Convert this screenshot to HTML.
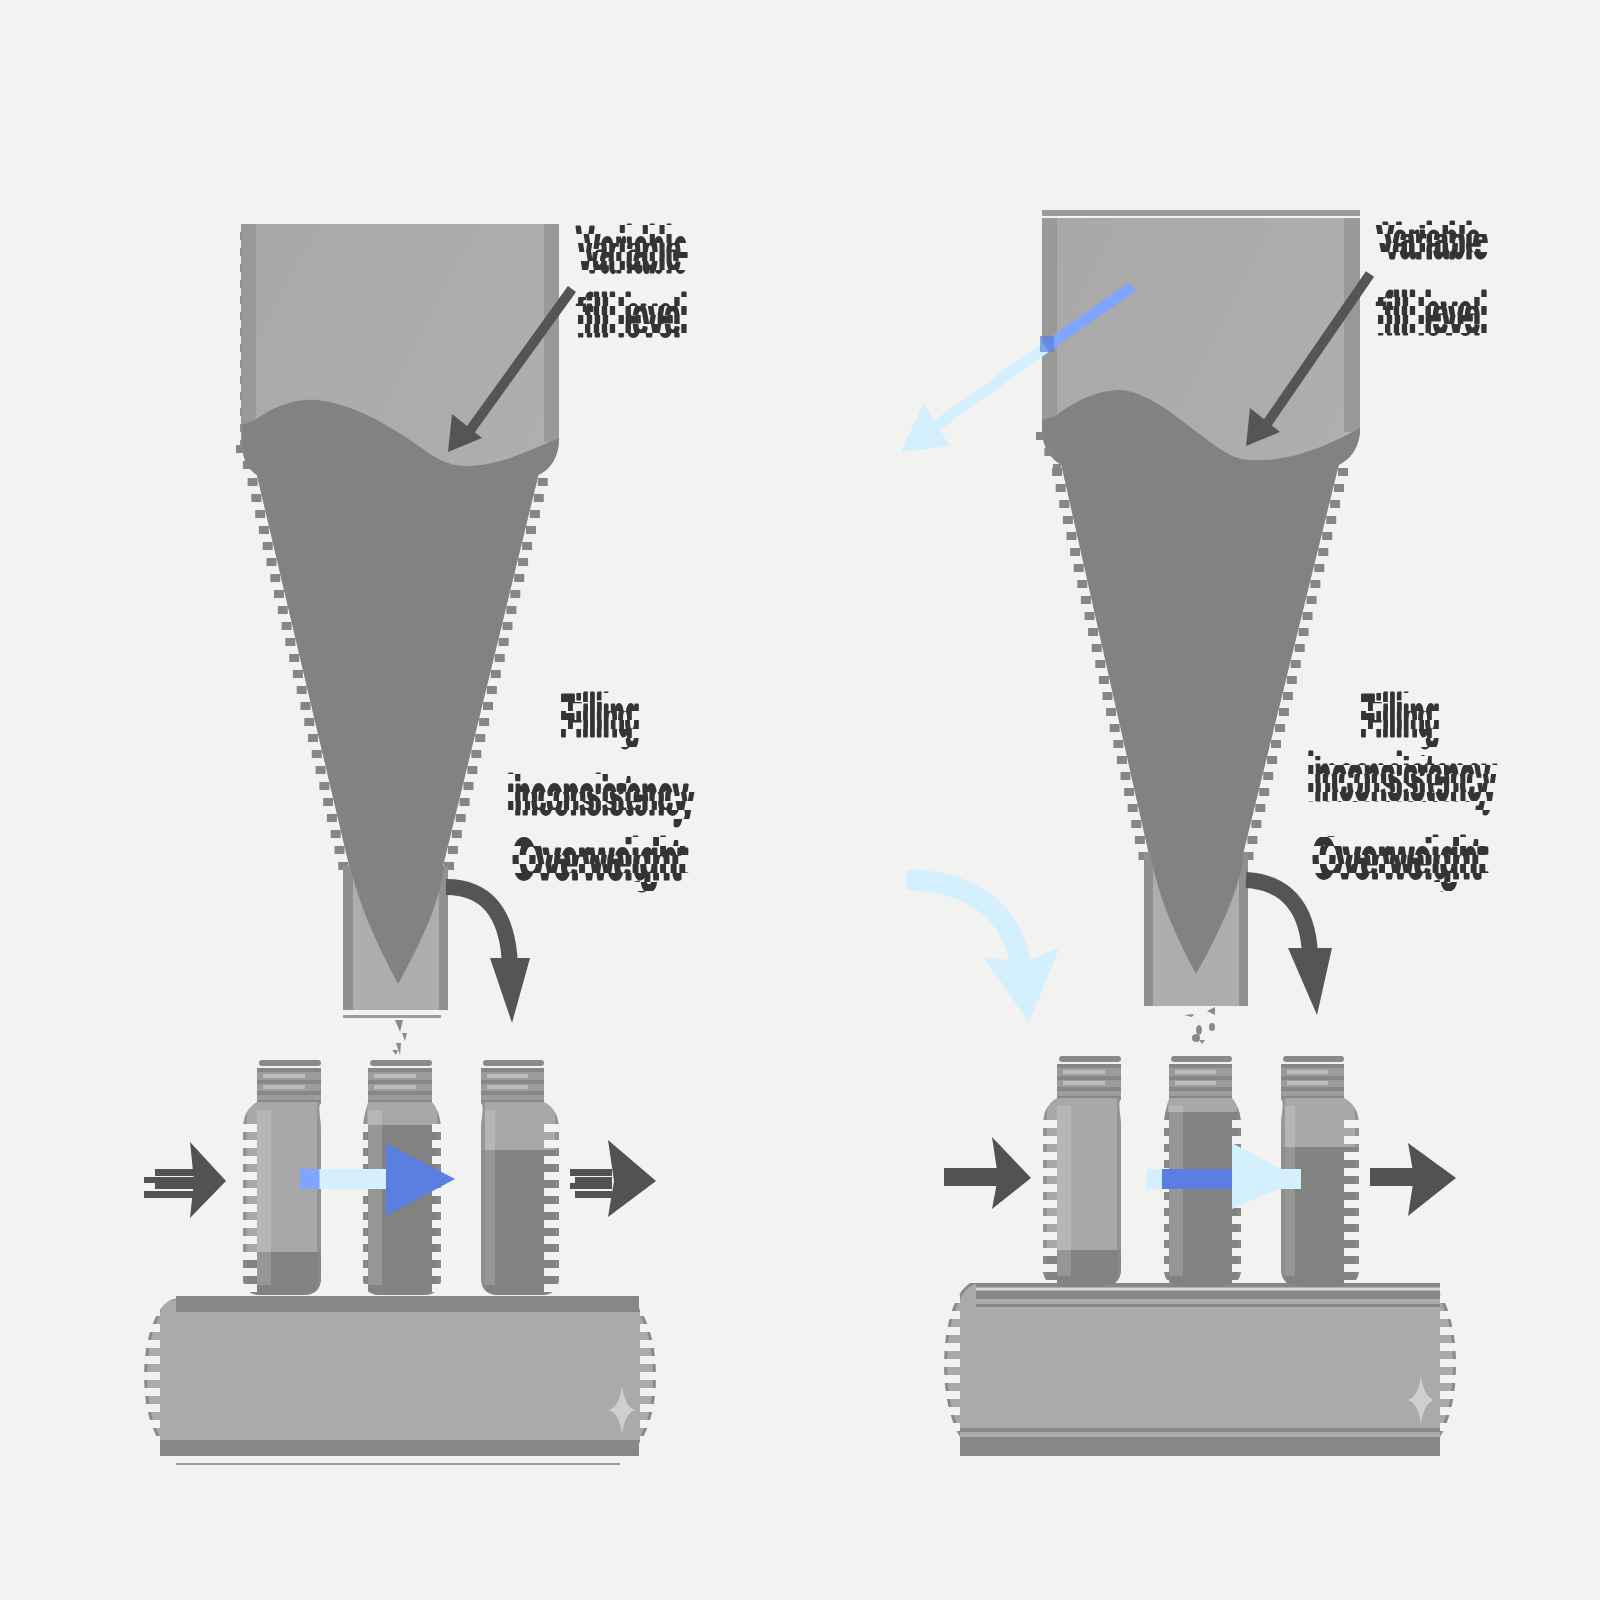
<!DOCTYPE html>
<html><head><meta charset="utf-8"><style>
html,body{margin:0;padding:0;background:#f2f2f1;width:1600px;height:1600px;overflow:hidden}
svg{display:block}
text{font-family:"Liberation Sans",sans-serif;font-weight:bold;fill:#333;stroke:#333;stroke-width:3;stroke-linejoin:round}
.tx{opacity:0.995;will-change:opacity}
</style></head><body>
<svg width="1600" height="1600" viewBox="0 0 1600 1600">
<defs>
  <linearGradient id="blueL" x1="0" x2="1" y1="0" y2="0">
    <stop offset="0" stop-color="#7fa5ff"/><stop offset="0.19" stop-color="#7fa5ff"/><stop offset="0.2" stop-color="#d4f0ff"/><stop offset="1" stop-color="#d4f0ff"/>
  </linearGradient>
  <linearGradient id="hopL" x1="0" x2="1" y1="0" y2="1">
    <stop offset="0" stop-color="#a8a8a8"/><stop offset="1" stop-color="#b2b2b0"/>
  </linearGradient>
  <clipPath id="rowsA"><rect x="0" y="0" width="1600" height="9"/><rect x="0" y="18" width="1600" height="9"/><rect x="0" y="36" width="1600" height="9"/><rect x="0" y="54" width="1600" height="9"/><rect x="0" y="72" width="1600" height="9"/><rect x="0" y="90" width="1600" height="9"/><rect x="0" y="108" width="1600" height="9"/><rect x="0" y="126" width="1600" height="9"/><rect x="0" y="144" width="1600" height="9"/><rect x="0" y="162" width="1600" height="9"/><rect x="0" y="180" width="1600" height="9"/><rect x="0" y="198" width="1600" height="9"/><rect x="0" y="216" width="1600" height="9"/><rect x="0" y="234" width="1600" height="9"/><rect x="0" y="252" width="1600" height="9"/><rect x="0" y="270" width="1600" height="9"/><rect x="0" y="288" width="1600" height="9"/><rect x="0" y="306" width="1600" height="9"/><rect x="0" y="324" width="1600" height="9"/><rect x="0" y="342" width="1600" height="9"/><rect x="0" y="360" width="1600" height="9"/><rect x="0" y="378" width="1600" height="9"/><rect x="0" y="396" width="1600" height="9"/><rect x="0" y="414" width="1600" height="9"/><rect x="0" y="432" width="1600" height="9"/><rect x="0" y="450" width="1600" height="9"/><rect x="0" y="468" width="1600" height="9"/><rect x="0" y="486" width="1600" height="9"/><rect x="0" y="504" width="1600" height="9"/><rect x="0" y="522" width="1600" height="9"/><rect x="0" y="540" width="1600" height="9"/><rect x="0" y="558" width="1600" height="9"/><rect x="0" y="576" width="1600" height="9"/><rect x="0" y="594" width="1600" height="9"/><rect x="0" y="612" width="1600" height="9"/><rect x="0" y="630" width="1600" height="9"/><rect x="0" y="648" width="1600" height="9"/><rect x="0" y="666" width="1600" height="9"/><rect x="0" y="684" width="1600" height="9"/><rect x="0" y="702" width="1600" height="9"/><rect x="0" y="720" width="1600" height="9"/><rect x="0" y="738" width="1600" height="9"/><rect x="0" y="756" width="1600" height="9"/><rect x="0" y="774" width="1600" height="9"/><rect x="0" y="792" width="1600" height="9"/><rect x="0" y="810" width="1600" height="9"/><rect x="0" y="828" width="1600" height="9"/><rect x="0" y="846" width="1600" height="9"/><rect x="0" y="864" width="1600" height="9"/><rect x="0" y="882" width="1600" height="9"/><rect x="0" y="900" width="1600" height="9"/><rect x="0" y="918" width="1600" height="9"/><rect x="0" y="936" width="1600" height="9"/><rect x="0" y="954" width="1600" height="9"/><rect x="0" y="972" width="1600" height="9"/><rect x="0" y="990" width="1600" height="9"/><rect x="0" y="1008" width="1600" height="9"/><rect x="0" y="1026" width="1600" height="9"/><rect x="0" y="1044" width="1600" height="9"/><rect x="0" y="1062" width="1600" height="9"/><rect x="0" y="1080" width="1600" height="9"/><rect x="0" y="1098" width="1600" height="9"/><rect x="0" y="1116" width="1600" height="9"/><rect x="0" y="1134" width="1600" height="9"/><rect x="0" y="1152" width="1600" height="9"/><rect x="0" y="1170" width="1600" height="9"/><rect x="0" y="1188" width="1600" height="9"/><rect x="0" y="1206" width="1600" height="9"/><rect x="0" y="1224" width="1600" height="9"/><rect x="0" y="1242" width="1600" height="9"/><rect x="0" y="1260" width="1600" height="9"/><rect x="0" y="1278" width="1600" height="9"/><rect x="0" y="1296" width="1600" height="9"/><rect x="0" y="1314" width="1600" height="9"/><rect x="0" y="1332" width="1600" height="9"/><rect x="0" y="1350" width="1600" height="9"/><rect x="0" y="1368" width="1600" height="9"/><rect x="0" y="1386" width="1600" height="9"/><rect x="0" y="1404" width="1600" height="9"/><rect x="0" y="1422" width="1600" height="9"/><rect x="0" y="1440" width="1600" height="9"/><rect x="0" y="1458" width="1600" height="9"/><rect x="0" y="1476" width="1600" height="9"/><rect x="0" y="1494" width="1600" height="9"/><rect x="0" y="1512" width="1600" height="9"/><rect x="0" y="1530" width="1600" height="9"/><rect x="0" y="1548" width="1600" height="9"/><rect x="0" y="1566" width="1600" height="9"/><rect x="0" y="1584" width="1600" height="9"/></clipPath>
  <clipPath id="rowsB"><rect x="0" y="9" width="1600" height="9"/><rect x="0" y="27" width="1600" height="9"/><rect x="0" y="45" width="1600" height="9"/><rect x="0" y="63" width="1600" height="9"/><rect x="0" y="81" width="1600" height="9"/><rect x="0" y="99" width="1600" height="9"/><rect x="0" y="117" width="1600" height="9"/><rect x="0" y="135" width="1600" height="9"/><rect x="0" y="153" width="1600" height="9"/><rect x="0" y="171" width="1600" height="9"/><rect x="0" y="189" width="1600" height="9"/><rect x="0" y="207" width="1600" height="9"/><rect x="0" y="225" width="1600" height="9"/><rect x="0" y="243" width="1600" height="9"/><rect x="0" y="261" width="1600" height="9"/><rect x="0" y="279" width="1600" height="9"/><rect x="0" y="297" width="1600" height="9"/><rect x="0" y="315" width="1600" height="9"/><rect x="0" y="333" width="1600" height="9"/><rect x="0" y="351" width="1600" height="9"/><rect x="0" y="369" width="1600" height="9"/><rect x="0" y="387" width="1600" height="9"/><rect x="0" y="405" width="1600" height="9"/><rect x="0" y="423" width="1600" height="9"/><rect x="0" y="441" width="1600" height="9"/><rect x="0" y="459" width="1600" height="9"/><rect x="0" y="477" width="1600" height="9"/><rect x="0" y="495" width="1600" height="9"/><rect x="0" y="513" width="1600" height="9"/><rect x="0" y="531" width="1600" height="9"/><rect x="0" y="549" width="1600" height="9"/><rect x="0" y="567" width="1600" height="9"/><rect x="0" y="585" width="1600" height="9"/><rect x="0" y="603" width="1600" height="9"/><rect x="0" y="621" width="1600" height="9"/><rect x="0" y="639" width="1600" height="9"/><rect x="0" y="657" width="1600" height="9"/><rect x="0" y="675" width="1600" height="9"/><rect x="0" y="693" width="1600" height="9"/><rect x="0" y="711" width="1600" height="9"/><rect x="0" y="729" width="1600" height="9"/><rect x="0" y="747" width="1600" height="9"/><rect x="0" y="765" width="1600" height="9"/><rect x="0" y="783" width="1600" height="9"/><rect x="0" y="801" width="1600" height="9"/><rect x="0" y="819" width="1600" height="9"/><rect x="0" y="837" width="1600" height="9"/><rect x="0" y="855" width="1600" height="9"/><rect x="0" y="873" width="1600" height="9"/><rect x="0" y="891" width="1600" height="9"/><rect x="0" y="909" width="1600" height="9"/><rect x="0" y="927" width="1600" height="9"/><rect x="0" y="945" width="1600" height="9"/><rect x="0" y="963" width="1600" height="9"/><rect x="0" y="981" width="1600" height="9"/><rect x="0" y="999" width="1600" height="9"/><rect x="0" y="1017" width="1600" height="9"/><rect x="0" y="1035" width="1600" height="9"/><rect x="0" y="1053" width="1600" height="9"/><rect x="0" y="1071" width="1600" height="9"/><rect x="0" y="1089" width="1600" height="9"/><rect x="0" y="1107" width="1600" height="9"/><rect x="0" y="1125" width="1600" height="9"/><rect x="0" y="1143" width="1600" height="9"/><rect x="0" y="1161" width="1600" height="9"/><rect x="0" y="1179" width="1600" height="9"/><rect x="0" y="1197" width="1600" height="9"/><rect x="0" y="1215" width="1600" height="9"/><rect x="0" y="1233" width="1600" height="9"/><rect x="0" y="1251" width="1600" height="9"/><rect x="0" y="1269" width="1600" height="9"/><rect x="0" y="1287" width="1600" height="9"/><rect x="0" y="1305" width="1600" height="9"/><rect x="0" y="1323" width="1600" height="9"/><rect x="0" y="1341" width="1600" height="9"/><rect x="0" y="1359" width="1600" height="9"/><rect x="0" y="1377" width="1600" height="9"/><rect x="0" y="1395" width="1600" height="9"/><rect x="0" y="1413" width="1600" height="9"/><rect x="0" y="1431" width="1600" height="9"/><rect x="0" y="1449" width="1600" height="9"/><rect x="0" y="1467" width="1600" height="9"/><rect x="0" y="1485" width="1600" height="9"/><rect x="0" y="1503" width="1600" height="9"/><rect x="0" y="1521" width="1600" height="9"/><rect x="0" y="1539" width="1600" height="9"/><rect x="0" y="1557" width="1600" height="9"/><rect x="0" y="1575" width="1600" height="9"/><rect x="0" y="1593" width="1600" height="9"/></clipPath>
</defs>
<rect width="1600" height="1600" fill="#f2f2f1"/>

<g id="L">
<path d="M242,224 H559 V442 Q557,466 538.4,475 L443,866 H349.2 L256.9,475 Q243,466 242,445 Z" fill="url(#hopL)"/>
<rect x="241" y="224" width="15" height="221" fill="#999997"/>
<rect x="544" y="224" width="15" height="218" fill="#999997"/>
<path d="M242,425 L255,420 C275,405 298,398 318,400 C350,404 380,420 410,440 C430,454 445,466 465,466 C500,466 525,452 559,438 L559,442 Q557,466 538.4,475 L443,866 L349.2,866 L256.9,475 Q243,466 242,445 Z" fill="#828282"/>
<rect x="247.6" y="478.0" width="10" height="8" fill="#868686" opacity="1"/>
<rect x="251.4" y="494.0" width="10" height="8" fill="#868686" opacity="1"/>
<rect x="255.2" y="510.0" width="10" height="8" fill="#868686" opacity="1"/>
<rect x="258.9" y="526.0" width="10" height="8" fill="#868686" opacity="1"/>
<rect x="262.7" y="542.0" width="10" height="8" fill="#868686" opacity="1"/>
<rect x="266.5" y="558.0" width="10" height="8" fill="#868686" opacity="1"/>
<rect x="270.3" y="574.0" width="10" height="8" fill="#868686" opacity="1"/>
<rect x="274.0" y="590.0" width="10" height="8" fill="#868686" opacity="1"/>
<rect x="277.8" y="606.0" width="10" height="8" fill="#868686" opacity="1"/>
<rect x="281.6" y="622.0" width="10" height="8" fill="#868686" opacity="1"/>
<rect x="285.4" y="638.0" width="10" height="8" fill="#868686" opacity="1"/>
<rect x="289.2" y="654.0" width="10" height="8" fill="#868686" opacity="1"/>
<rect x="292.9" y="670.0" width="10" height="8" fill="#868686" opacity="1"/>
<rect x="296.7" y="686.0" width="10" height="8" fill="#868686" opacity="1"/>
<rect x="300.5" y="702.0" width="10" height="8" fill="#868686" opacity="1"/>
<rect x="304.3" y="718.0" width="10" height="8" fill="#868686" opacity="1"/>
<rect x="308.0" y="734.0" width="10" height="8" fill="#868686" opacity="1"/>
<rect x="311.8" y="750.0" width="10" height="8" fill="#868686" opacity="1"/>
<rect x="315.6" y="766.0" width="10" height="8" fill="#868686" opacity="1"/>
<rect x="319.4" y="782.0" width="10" height="8" fill="#868686" opacity="1"/>
<rect x="323.1" y="798.0" width="10" height="8" fill="#868686" opacity="1"/>
<rect x="326.9" y="814.0" width="10" height="8" fill="#868686" opacity="1"/>
<rect x="330.7" y="830.0" width="10" height="8" fill="#868686" opacity="1"/>
<rect x="334.5" y="846.0" width="10" height="8" fill="#868686" opacity="1"/>
<rect x="338.3" y="862.0" width="10" height="8" fill="#868686" opacity="1"/>
<rect x="537.7" y="478.0" width="10" height="8" fill="#868686" opacity="1"/>
<rect x="533.8" y="494.0" width="10" height="8" fill="#868686" opacity="1"/>
<rect x="529.9" y="510.0" width="10" height="8" fill="#868686" opacity="1"/>
<rect x="526.0" y="526.0" width="10" height="8" fill="#868686" opacity="1"/>
<rect x="522.1" y="542.0" width="10" height="8" fill="#868686" opacity="1"/>
<rect x="518.1" y="558.0" width="10" height="8" fill="#868686" opacity="1"/>
<rect x="514.2" y="574.0" width="10" height="8" fill="#868686" opacity="1"/>
<rect x="510.3" y="590.0" width="10" height="8" fill="#868686" opacity="1"/>
<rect x="506.4" y="606.0" width="10" height="8" fill="#868686" opacity="1"/>
<rect x="502.5" y="622.0" width="10" height="8" fill="#868686" opacity="1"/>
<rect x="498.6" y="638.0" width="10" height="8" fill="#868686" opacity="1"/>
<rect x="494.7" y="654.0" width="10" height="8" fill="#868686" opacity="1"/>
<rect x="490.8" y="670.0" width="10" height="8" fill="#868686" opacity="1"/>
<rect x="486.9" y="686.0" width="10" height="8" fill="#868686" opacity="1"/>
<rect x="483.0" y="702.0" width="10" height="8" fill="#868686" opacity="1"/>
<rect x="479.1" y="718.0" width="10" height="8" fill="#868686" opacity="1"/>
<rect x="475.2" y="734.0" width="10" height="8" fill="#868686" opacity="1"/>
<rect x="471.3" y="750.0" width="10" height="8" fill="#868686" opacity="1"/>
<rect x="467.4" y="766.0" width="10" height="8" fill="#868686" opacity="1"/>
<rect x="463.5" y="782.0" width="10" height="8" fill="#868686" opacity="1"/>
<rect x="459.6" y="798.0" width="10" height="8" fill="#868686" opacity="1"/>
<rect x="455.7" y="814.0" width="10" height="8" fill="#868686" opacity="1"/>
<rect x="451.8" y="830.0" width="10" height="8" fill="#868686" opacity="1"/>
<rect x="447.9" y="846.0" width="10" height="8" fill="#868686" opacity="1"/>
<rect x="444.0" y="862.0" width="10" height="8" fill="#868686" opacity="1"/>
<rect x="236.0" y="445.0" width="8" height="8" fill="#868686" opacity="1"/>
<rect x="242.9" y="461.0" width="8" height="8" fill="#868686" opacity="1"/>
<rect x="240.0" y="232.0" width="2" height="8" fill="#8f8f8f" opacity="1"/>
<rect x="240.0" y="248.0" width="2" height="8" fill="#8f8f8f" opacity="1"/>
<rect x="240.0" y="264.0" width="2" height="8" fill="#8f8f8f" opacity="1"/>
<rect x="240.0" y="280.0" width="2" height="8" fill="#8f8f8f" opacity="1"/>
<rect x="240.0" y="296.0" width="2" height="8" fill="#8f8f8f" opacity="1"/>
<rect x="240.0" y="312.0" width="2" height="8" fill="#8f8f8f" opacity="1"/>
<rect x="240.0" y="328.0" width="2" height="8" fill="#8f8f8f" opacity="1"/>
<rect x="240.0" y="344.0" width="2" height="8" fill="#8f8f8f" opacity="1"/>
<rect x="240.0" y="360.0" width="2" height="8" fill="#8f8f8f" opacity="1"/>
<rect x="240.0" y="376.0" width="2" height="8" fill="#8f8f8f" opacity="1"/>
<rect x="240.0" y="392.0" width="2" height="8" fill="#8f8f8f" opacity="1"/>
<rect x="240.0" y="408.0" width="2" height="8" fill="#8f8f8f" opacity="1"/>
<rect x="240.0" y="424.0" width="2" height="8" fill="#8f8f8f" opacity="1"/>
<rect x="240.0" y="440.0" width="2" height="8" fill="#8f8f8f" opacity="1"/>
<rect x="343" y="866" width="105" height="144" fill="#909090"/>
<rect x="353" y="866" width="86" height="144" fill="#adadad"/>
<path d="M350,866 L444,866 C440,900 425,935 398,984 C372,935 358,900 350,866 Z" fill="#828282"/>
<rect x="343" y="1015" width="98" height="3" fill="#9c9c9c"/>
<g fill="#8a8a8a"><path d="M395,1020 l8,0 l-3,12 z"/><path d="M402,1033 l5,0 l-2,8 z"/><path d="M396,1043 l5,0 l-1,12 z"/><path d="M392,1050 l6,0 l-2,5 z"/></g>
<path d="M572,289 L466,436" stroke="#555" stroke-width="10" fill="none"/>
<path d="M448,452 L452,414 L482,438 Z" fill="#555"/>
<g class="tx"><g clip-path="url(#rowsA)"><g transform="translate(7,0)"><text x="576" y="272" font-size="64" text-anchor="start" textLength="105" lengthAdjust="spacingAndGlyphs">Variable</text>
<text x="576" y="336" font-size="60" text-anchor="start" textLength="105" lengthAdjust="spacingAndGlyphs">fill level</text>
<text x="596.5" y="736" font-size="60" text-anchor="middle" textLength="73" lengthAdjust="spacingAndGlyphs">Filling</text>
<text x="597.5" y="814" font-size="56" text-anchor="middle" textLength="181" lengthAdjust="spacingAndGlyphs">inconsistency</text>
<text x="596.5" y="879" font-size="58" text-anchor="middle" textLength="169" lengthAdjust="spacingAndGlyphs">Overweight</text></g></g><g clip-path="url(#rowsB)"><text x="576" y="272" font-size="64" text-anchor="start" textLength="105" lengthAdjust="spacingAndGlyphs">Variable</text>
<text x="576" y="336" font-size="60" text-anchor="start" textLength="105" lengthAdjust="spacingAndGlyphs">fill level</text>
<text x="596.5" y="736" font-size="60" text-anchor="middle" textLength="73" lengthAdjust="spacingAndGlyphs">Filling</text>
<text x="597.5" y="814" font-size="56" text-anchor="middle" textLength="181" lengthAdjust="spacingAndGlyphs">inconsistency</text>
<text x="596.5" y="879" font-size="58" text-anchor="middle" textLength="169" lengthAdjust="spacingAndGlyphs">Overweight</text></g></g>
<path d="M446,887 C484,887 508,910 510,966" stroke="#555" stroke-width="16" fill="none"/>
<path d="M490,958 L530,958 L512,1023 Z" fill="#555"/>
<clipPath id="cvlt"><rect x="142" y="1300" width="516" height="8"/><rect x="142" y="1316" width="516" height="8"/><rect x="142" y="1332" width="516" height="8"/><rect x="142" y="1348" width="516" height="8"/><rect x="142" y="1364" width="516" height="8"/><rect x="142" y="1380" width="516" height="8"/><rect x="142" y="1396" width="516" height="8"/><rect x="142" y="1412" width="516" height="8"/><rect x="142" y="1428" width="516" height="8"/><rect x="142" y="1444" width="516" height="8"/><rect x="160" y="1296" width="480" height="160"/></clipPath>
<g clip-path="url(#cvlt)">
<ellipse cx="178" cy="1376.0" rx="32.5" ry="76.0" fill="#aaaaaa" stroke="#8a8a8a" stroke-width="3"/>
<ellipse cx="622" cy="1376.0" rx="32.5" ry="76.0" fill="#aaaaaa" stroke="#8a8a8a" stroke-width="3"/>
</g>
<rect x="160" y="1300" width="480" height="152" rx="16" fill="#aaaaaa"/>
<rect x="176" y="1296" width="463" height="16" fill="#878787"/><rect x="160" y="1440" width="479" height="16" fill="#878787"/>
<rect x="176" y="1463" width="444" height="2" fill="#9a9a9a"/>
<path d="M622,1386 Q625,1407 635,1410 Q625,1413 622,1434 Q619,1413 609,1410 Q619,1407 622,1386 Z" fill="#cfcfcf"/>
<clipPath id="bl1s"><path d="M257,1102 H321 C317,1108 321,1116 321,1132 V1277 Q321,1295 303,1295 H261 Q243,1295 243,1277 V1132 C243,1116 247,1108 257,1102 Z"/></clipPath>
<clipPath id="bl1t"><rect x="257" y="1060" width="64" height="237"/><rect x="241" y="1098" width="82" height="26"/><rect x="241" y="1132" width="82" height="8"/><rect x="241" y="1148" width="82" height="8"/><rect x="241" y="1164" width="82" height="8"/><rect x="241" y="1180" width="82" height="8"/><rect x="241" y="1196" width="82" height="8"/><rect x="241" y="1212" width="82" height="8"/><rect x="241" y="1228" width="82" height="8"/><rect x="241" y="1244" width="82" height="8"/><rect x="241" y="1260" width="82" height="8"/><rect x="241" y="1276" width="82" height="8"/><rect x="241" y="1292" width="82" height="8"/></clipPath>
<rect x="259" y="1060" width="62" height="6" rx="3" fill="#8a8a8a"/>
<rect x="257" y="1068" width="64" height="36" rx="3" fill="#9c9c9c"/>
<rect x="257" y="1068" width="64" height="4" fill="#878787"/>
<rect x="257" y="1080" width="64" height="4" fill="#878787"/>
<rect x="257" y="1091" width="64" height="4" fill="#878787"/>
<rect x="257" y="1100" width="64" height="4" fill="#878787"/>
<rect x="263" y="1074" width="42" height="4" fill="#bdbdbd"/>
<rect x="263" y="1085" width="42" height="4" fill="#bdbdbd"/>
<g clip-path="url(#bl1s)"><g clip-path="url(#bl1t)">
<rect x="243" y="1100" width="78" height="235" fill="#a8a8a8"/>
<rect x="243" y="1252" width="78" height="43" fill="#828282"/>
<rect x="257" y="1110" width="14" height="175" fill="#ffffff" opacity="0.16"/>
<rect x="243" y="1100" width="4" height="235" fill="#8a8a8a" opacity="0.7"/>
<rect x="317" y="1100" width="4" height="235" fill="#8a8a8a" opacity="0.7"/>
</g></g>
<clipPath id="bl2s"><path d="M368,1102 H432 C437,1108 441,1116 441,1132 V1277 Q441,1295 423,1295 H381 Q363,1295 363,1277 V1132 C363,1116 367,1108 368,1102 Z"/></clipPath>
<clipPath id="bl2t"><rect x="368" y="1060" width="64" height="237"/><rect x="361" y="1098" width="82" height="26"/><rect x="361" y="1132" width="82" height="8"/><rect x="361" y="1148" width="82" height="8"/><rect x="361" y="1164" width="82" height="8"/><rect x="361" y="1180" width="82" height="8"/><rect x="361" y="1196" width="82" height="8"/><rect x="361" y="1212" width="82" height="8"/><rect x="361" y="1228" width="82" height="8"/><rect x="361" y="1244" width="82" height="8"/><rect x="361" y="1260" width="82" height="8"/><rect x="361" y="1276" width="82" height="8"/><rect x="361" y="1292" width="82" height="8"/></clipPath>
<rect x="370" y="1060" width="62" height="6" rx="3" fill="#8a8a8a"/>
<rect x="368" y="1068" width="64" height="36" rx="3" fill="#9c9c9c"/>
<rect x="368" y="1068" width="64" height="4" fill="#878787"/>
<rect x="368" y="1080" width="64" height="4" fill="#878787"/>
<rect x="368" y="1091" width="64" height="4" fill="#878787"/>
<rect x="368" y="1100" width="64" height="4" fill="#878787"/>
<rect x="374" y="1074" width="42" height="4" fill="#bdbdbd"/>
<rect x="374" y="1085" width="42" height="4" fill="#bdbdbd"/>
<g clip-path="url(#bl2s)"><g clip-path="url(#bl2t)">
<rect x="363" y="1100" width="78" height="235" fill="#a8a8a8"/>
<rect x="363" y="1125" width="78" height="170" fill="#828282"/>
<rect x="368" y="1110" width="14" height="175" fill="#ffffff" opacity="0.16"/>
<rect x="363" y="1100" width="4" height="235" fill="#8a8a8a" opacity="0.7"/>
<rect x="437" y="1100" width="4" height="235" fill="#8a8a8a" opacity="0.7"/>
</g></g>
<clipPath id="bl3s"><path d="M481,1102 H544 C555,1108 559,1116 559,1132 V1277 Q559,1295 541,1295 H499 Q481,1295 481,1277 V1132 C481,1116 485,1108 481,1102 Z"/></clipPath>
<clipPath id="bl3t"><rect x="481" y="1060" width="63" height="237"/><rect x="479" y="1098" width="82" height="26"/><rect x="479" y="1132" width="82" height="8"/><rect x="479" y="1148" width="82" height="8"/><rect x="479" y="1164" width="82" height="8"/><rect x="479" y="1180" width="82" height="8"/><rect x="479" y="1196" width="82" height="8"/><rect x="479" y="1212" width="82" height="8"/><rect x="479" y="1228" width="82" height="8"/><rect x="479" y="1244" width="82" height="8"/><rect x="479" y="1260" width="82" height="8"/><rect x="479" y="1276" width="82" height="8"/><rect x="479" y="1292" width="82" height="8"/></clipPath>
<rect x="483" y="1060" width="61" height="6" rx="3" fill="#8a8a8a"/>
<rect x="481" y="1068" width="63" height="36" rx="3" fill="#9c9c9c"/>
<rect x="481" y="1068" width="63" height="4" fill="#878787"/>
<rect x="481" y="1080" width="63" height="4" fill="#878787"/>
<rect x="481" y="1091" width="63" height="4" fill="#878787"/>
<rect x="481" y="1100" width="63" height="4" fill="#878787"/>
<rect x="487" y="1074" width="41" height="4" fill="#bdbdbd"/>
<rect x="487" y="1085" width="41" height="4" fill="#bdbdbd"/>
<g clip-path="url(#bl3s)"><g clip-path="url(#bl3t)">
<rect x="481" y="1100" width="78" height="235" fill="#a8a8a8"/>
<rect x="481" y="1150" width="78" height="145" fill="#828282"/>
<rect x="481" y="1110" width="14" height="175" fill="#ffffff" opacity="0.16"/>
<rect x="481" y="1100" width="4" height="235" fill="#8a8a8a" opacity="0.7"/>
<rect x="555" y="1100" width="4" height="235" fill="#8a8a8a" opacity="0.7"/>
</g></g>
<rect x="300" y="1169" width="100" height="20" fill="url(#blueL)"/>
<path d="M386,1143 L455,1179 L386,1216 Z" fill="#5b7fe0"/>
<g fill="#525252"><rect x="155" y="1169" width="40" height="7"/><rect x="144" y="1177" width="52" height="6"/><rect x="155" y="1183" width="40" height="6"/><rect x="144" y="1191" width="52" height="7"/><path d="M190,1142 L226,1181 L190,1218 L194,1181 Z"/><rect x="570" y="1169" width="42" height="7"/><rect x="575" y="1177" width="37" height="6"/><rect x="570" y="1183" width="42" height="6"/><rect x="575" y="1191" width="37" height="7"/><path d="M608,1140 L656,1181 L608,1217 L614,1181 Z"/></g>
</g>
<g id="R">
<rect x="1042" y="210" width="318" height="6" fill="#9a9a9a"/>
<path d="M1042,218 H1360 V432 Q1358,455 1338.7,465 L1243,854 H1148.9 L1061.4,465 Q1044,455 1042,432 Z" fill="url(#hopL)"/>
<rect x="1042" y="218" width="15" height="214" fill="#999997"/>
<rect x="1344" y="218" width="16" height="214" fill="#999997"/>
<path d="M1042,420 L1056,416 C1075,400 1100,390 1120,390 C1150,392 1180,420 1205,438 C1220,450 1235,460 1250,460 C1285,462 1320,450 1360,428 L1360,432 Q1358,455 1338.7,465 L1243,854 L1148.9,854 L1061.4,465 Q1044,455 1042,432 Z" fill="#828282"/>
<rect x="1052.1" y="468.0" width="10" height="8" fill="#868686" opacity="1"/>
<rect x="1055.7" y="484.0" width="10" height="8" fill="#868686" opacity="1"/>
<rect x="1059.3" y="500.0" width="10" height="8" fill="#868686" opacity="1"/>
<rect x="1062.9" y="516.0" width="10" height="8" fill="#868686" opacity="1"/>
<rect x="1066.5" y="532.0" width="10" height="8" fill="#868686" opacity="1"/>
<rect x="1070.1" y="548.0" width="10" height="8" fill="#868686" opacity="1"/>
<rect x="1073.7" y="564.0" width="10" height="8" fill="#868686" opacity="1"/>
<rect x="1077.3" y="580.0" width="10" height="8" fill="#868686" opacity="1"/>
<rect x="1080.9" y="596.0" width="10" height="8" fill="#868686" opacity="1"/>
<rect x="1084.5" y="612.0" width="10" height="8" fill="#868686" opacity="1"/>
<rect x="1088.1" y="628.0" width="10" height="8" fill="#868686" opacity="1"/>
<rect x="1091.7" y="644.0" width="10" height="8" fill="#868686" opacity="1"/>
<rect x="1095.3" y="660.0" width="10" height="8" fill="#868686" opacity="1"/>
<rect x="1098.9" y="676.0" width="10" height="8" fill="#868686" opacity="1"/>
<rect x="1102.5" y="692.0" width="10" height="8" fill="#868686" opacity="1"/>
<rect x="1106.1" y="708.0" width="10" height="8" fill="#868686" opacity="1"/>
<rect x="1109.7" y="724.0" width="10" height="8" fill="#868686" opacity="1"/>
<rect x="1113.3" y="740.0" width="10" height="8" fill="#868686" opacity="1"/>
<rect x="1116.9" y="756.0" width="10" height="8" fill="#868686" opacity="1"/>
<rect x="1120.5" y="772.0" width="10" height="8" fill="#868686" opacity="1"/>
<rect x="1124.1" y="788.0" width="10" height="8" fill="#868686" opacity="1"/>
<rect x="1127.7" y="804.0" width="10" height="8" fill="#868686" opacity="1"/>
<rect x="1131.3" y="820.0" width="10" height="8" fill="#868686" opacity="1"/>
<rect x="1134.9" y="836.0" width="10" height="8" fill="#868686" opacity="1"/>
<rect x="1138.5" y="852.0" width="10" height="8" fill="#868686" opacity="1"/>
<rect x="1338.0" y="468.0" width="10" height="8" fill="#868686" opacity="1"/>
<rect x="1334.0" y="484.0" width="10" height="8" fill="#868686" opacity="1"/>
<rect x="1330.1" y="500.0" width="10" height="8" fill="#868686" opacity="1"/>
<rect x="1326.2" y="516.0" width="10" height="8" fill="#868686" opacity="1"/>
<rect x="1322.2" y="532.0" width="10" height="8" fill="#868686" opacity="1"/>
<rect x="1318.3" y="548.0" width="10" height="8" fill="#868686" opacity="1"/>
<rect x="1314.3" y="564.0" width="10" height="8" fill="#868686" opacity="1"/>
<rect x="1310.4" y="580.0" width="10" height="8" fill="#868686" opacity="1"/>
<rect x="1306.5" y="596.0" width="10" height="8" fill="#868686" opacity="1"/>
<rect x="1302.5" y="612.0" width="10" height="8" fill="#868686" opacity="1"/>
<rect x="1298.6" y="628.0" width="10" height="8" fill="#868686" opacity="1"/>
<rect x="1294.7" y="644.0" width="10" height="8" fill="#868686" opacity="1"/>
<rect x="1290.7" y="660.0" width="10" height="8" fill="#868686" opacity="1"/>
<rect x="1286.8" y="676.0" width="10" height="8" fill="#868686" opacity="1"/>
<rect x="1282.9" y="692.0" width="10" height="8" fill="#868686" opacity="1"/>
<rect x="1278.9" y="708.0" width="10" height="8" fill="#868686" opacity="1"/>
<rect x="1275.0" y="724.0" width="10" height="8" fill="#868686" opacity="1"/>
<rect x="1271.0" y="740.0" width="10" height="8" fill="#868686" opacity="1"/>
<rect x="1267.1" y="756.0" width="10" height="8" fill="#868686" opacity="1"/>
<rect x="1263.2" y="772.0" width="10" height="8" fill="#868686" opacity="1"/>
<rect x="1259.2" y="788.0" width="10" height="8" fill="#868686" opacity="1"/>
<rect x="1255.3" y="804.0" width="10" height="8" fill="#868686" opacity="1"/>
<rect x="1251.4" y="820.0" width="10" height="8" fill="#868686" opacity="1"/>
<rect x="1247.4" y="836.0" width="10" height="8" fill="#868686" opacity="1"/>
<rect x="1243.5" y="852.0" width="10" height="8" fill="#868686" opacity="1"/>
<rect x="1036.0" y="432.0" width="8" height="8" fill="#868686" opacity="1"/>
<rect x="1044.4" y="448.0" width="8" height="8" fill="#868686" opacity="1"/>
<rect x="1052.9" y="464.0" width="8" height="8" fill="#868686" opacity="1"/>
<rect x="1144" y="852" width="104" height="154" fill="#909090"/>
<rect x="1153" y="852" width="86" height="154" fill="#adadad"/>
<path d="M1150,852 L1244,852 C1240,886 1225,922 1196,974 C1168,922 1156,886 1150,852 Z" fill="#828282"/>
<g fill="#8a8a8a"><path d="M1184,1015 l10,-1 l-2,3 z"/><path d="M1207,1011 l8,-4 l0,8 z"/><ellipse cx="1199" cy="1030" rx="3" ry="5"/><ellipse cx="1212" cy="1027" rx="3" ry="4"/><ellipse cx="1196" cy="1038" rx="4" ry="4"/><path d="M1199,1040 l6,0 l-3,4 z"/></g>
<path d="M1370,274 L1264,428" stroke="#555" stroke-width="10" fill="none"/>
<path d="M1246,446 L1250,408 L1280,432 Z" fill="#555"/>
<g class="tx"><g clip-path="url(#rowsA)"><g transform="translate(7,0)"><text x="1376" y="258" font-size="50" text-anchor="start" textLength="105" lengthAdjust="spacingAndGlyphs">Variable</text>
<text x="1376" y="334" font-size="60" text-anchor="start" textLength="105" lengthAdjust="spacingAndGlyphs">fill level</text>
<text x="1396.5" y="736" font-size="60" text-anchor="middle" textLength="73" lengthAdjust="spacingAndGlyphs">Filling</text>
<text x="1398.5" y="800" font-size="66" text-anchor="middle" textLength="183" lengthAdjust="spacingAndGlyphs">inconsistency</text>
<text x="1396.5" y="878" font-size="58" text-anchor="middle" textLength="169" lengthAdjust="spacingAndGlyphs">Overweight</text></g></g><g clip-path="url(#rowsB)"><text x="1376" y="258" font-size="50" text-anchor="start" textLength="105" lengthAdjust="spacingAndGlyphs">Variable</text>
<text x="1376" y="334" font-size="60" text-anchor="start" textLength="105" lengthAdjust="spacingAndGlyphs">fill level</text>
<text x="1396.5" y="736" font-size="60" text-anchor="middle" textLength="73" lengthAdjust="spacingAndGlyphs">Filling</text>
<text x="1398.5" y="800" font-size="66" text-anchor="middle" textLength="183" lengthAdjust="spacingAndGlyphs">inconsistency</text>
<text x="1396.5" y="878" font-size="58" text-anchor="middle" textLength="169" lengthAdjust="spacingAndGlyphs">Overweight</text></g></g>
<path d="M1246,880 C1284,882 1308,905 1310,955" stroke="#555" stroke-width="16" fill="none"/>
<path d="M1288,948 L1332,948 L1317,1015 Z" fill="#555"/>
<path d="M1132,287 L1046,347" stroke="#7fa5ff" stroke-width="11" fill="none"/>
<path d="M1046,347 L936,426" stroke="#d4f0ff" stroke-width="11" fill="none"/>
<path d="M901,452 L924,402 L933,421 L942,433 L950,446 Z" fill="#d4f0ff"/>
<rect x="1040" y="336" width="14" height="16" fill="#5b7fe0" opacity="0.7"/>
<path d="M906,880 C965,880 1008,906 1020,960" stroke="#d4f0ff" stroke-width="21" fill="none"/>
<path d="M984,957 L1011,960 L1033,959 L1060,946 L1029,1023 Z" fill="#d4f0ff"/>
<clipPath id="cvrt"><rect x="942" y="1287" width="516" height="8"/><rect x="942" y="1303" width="516" height="8"/><rect x="942" y="1319" width="516" height="8"/><rect x="942" y="1335" width="516" height="8"/><rect x="942" y="1351" width="516" height="8"/><rect x="942" y="1367" width="516" height="8"/><rect x="942" y="1383" width="516" height="8"/><rect x="942" y="1399" width="516" height="8"/><rect x="942" y="1415" width="516" height="8"/><rect x="942" y="1431" width="516" height="8"/><rect x="942" y="1447" width="516" height="8"/><rect x="960" y="1283" width="480" height="173"/></clipPath>
<g clip-path="url(#cvrt)">
<ellipse cx="978" cy="1365.0" rx="32.5" ry="82.5" fill="#aaaaaa" stroke="#8a8a8a" stroke-width="3"/>
<ellipse cx="1422" cy="1365.0" rx="32.5" ry="82.5" fill="#aaaaaa" stroke="#8a8a8a" stroke-width="3"/>
</g>
<rect x="960" y="1287" width="480" height="165" rx="16" fill="#aaaaaa"/>
<rect x="976" y="1283" width="464" height="16" fill="#878787"/><rect x="976" y="1287.5" width="464" height="3" fill="#d6d6d6"/><rect x="976" y="1304" width="464" height="3" fill="#878787"/><rect x="960" y="1428" width="480" height="4" fill="#878787"/><rect x="960" y="1437" width="480" height="19" fill="#878787"/>
<path d="M1421,1376 Q1424,1397 1434,1400 Q1424,1403 1421,1424 Q1418,1403 1408,1400 Q1418,1397 1421,1376 Z" fill="#cfcfcf"/>
<clipPath id="br1s"><path d="M1057,1098 H1121 C1117,1104 1121,1112 1121,1128 V1268 Q1121,1286 1103,1286 H1061 Q1043,1286 1043,1268 V1128 C1043,1112 1047,1104 1057,1098 Z"/></clipPath>
<clipPath id="br1t"><rect x="1057" y="1056" width="64" height="232"/><rect x="1041" y="1094" width="82" height="26"/><rect x="1041" y="1128" width="82" height="8"/><rect x="1041" y="1144" width="82" height="8"/><rect x="1041" y="1160" width="82" height="8"/><rect x="1041" y="1176" width="82" height="8"/><rect x="1041" y="1192" width="82" height="8"/><rect x="1041" y="1208" width="82" height="8"/><rect x="1041" y="1224" width="82" height="8"/><rect x="1041" y="1240" width="82" height="8"/><rect x="1041" y="1256" width="82" height="8"/><rect x="1041" y="1272" width="82" height="8"/></clipPath>
<rect x="1059" y="1056" width="62" height="6" rx="3" fill="#8a8a8a"/>
<rect x="1057" y="1064" width="64" height="36" rx="3" fill="#9c9c9c"/>
<rect x="1057" y="1064" width="64" height="4" fill="#878787"/>
<rect x="1057" y="1076" width="64" height="4" fill="#878787"/>
<rect x="1057" y="1087" width="64" height="4" fill="#878787"/>
<rect x="1057" y="1096" width="64" height="4" fill="#878787"/>
<rect x="1063" y="1070" width="42" height="4" fill="#bdbdbd"/>
<rect x="1063" y="1081" width="42" height="4" fill="#bdbdbd"/>
<g clip-path="url(#br1s)"><g clip-path="url(#br1t)">
<rect x="1043" y="1096" width="78" height="230" fill="#a8a8a8"/>
<rect x="1043" y="1250" width="78" height="36" fill="#828282"/>
<rect x="1057" y="1106" width="14" height="170" fill="#ffffff" opacity="0.16"/>
<rect x="1043" y="1096" width="4" height="230" fill="#8a8a8a" opacity="0.7"/>
<rect x="1117" y="1096" width="4" height="230" fill="#8a8a8a" opacity="0.7"/>
</g></g>
<clipPath id="br2s"><path d="M1169,1098 H1232 C1237,1104 1241,1112 1241,1128 V1268 Q1241,1286 1223,1286 H1182 Q1164,1286 1164,1268 V1128 C1164,1112 1168,1104 1169,1098 Z"/></clipPath>
<clipPath id="br2t"><rect x="1169" y="1056" width="63" height="232"/><rect x="1162" y="1094" width="81" height="26"/><rect x="1162" y="1128" width="81" height="8"/><rect x="1162" y="1144" width="81" height="8"/><rect x="1162" y="1160" width="81" height="8"/><rect x="1162" y="1176" width="81" height="8"/><rect x="1162" y="1192" width="81" height="8"/><rect x="1162" y="1208" width="81" height="8"/><rect x="1162" y="1224" width="81" height="8"/><rect x="1162" y="1240" width="81" height="8"/><rect x="1162" y="1256" width="81" height="8"/><rect x="1162" y="1272" width="81" height="8"/></clipPath>
<rect x="1171" y="1056" width="61" height="6" rx="3" fill="#8a8a8a"/>
<rect x="1169" y="1064" width="63" height="36" rx="3" fill="#9c9c9c"/>
<rect x="1169" y="1064" width="63" height="4" fill="#878787"/>
<rect x="1169" y="1076" width="63" height="4" fill="#878787"/>
<rect x="1169" y="1087" width="63" height="4" fill="#878787"/>
<rect x="1169" y="1096" width="63" height="4" fill="#878787"/>
<rect x="1175" y="1070" width="41" height="4" fill="#bdbdbd"/>
<rect x="1175" y="1081" width="41" height="4" fill="#bdbdbd"/>
<g clip-path="url(#br2s)"><g clip-path="url(#br2t)">
<rect x="1164" y="1096" width="77" height="230" fill="#a8a8a8"/>
<rect x="1164" y="1112" width="77" height="174" fill="#828282"/>
<rect x="1169" y="1106" width="14" height="170" fill="#ffffff" opacity="0.16"/>
<rect x="1164" y="1096" width="4" height="230" fill="#8a8a8a" opacity="0.7"/>
<rect x="1237" y="1096" width="4" height="230" fill="#8a8a8a" opacity="0.7"/>
</g></g>
<clipPath id="br3s"><path d="M1281,1098 H1344 C1355,1104 1359,1112 1359,1128 V1268 Q1359,1286 1341,1286 H1299 Q1281,1286 1281,1268 V1128 C1281,1112 1285,1104 1281,1098 Z"/></clipPath>
<clipPath id="br3t"><rect x="1281" y="1056" width="63" height="232"/><rect x="1279" y="1094" width="82" height="26"/><rect x="1279" y="1128" width="82" height="8"/><rect x="1279" y="1144" width="82" height="8"/><rect x="1279" y="1160" width="82" height="8"/><rect x="1279" y="1176" width="82" height="8"/><rect x="1279" y="1192" width="82" height="8"/><rect x="1279" y="1208" width="82" height="8"/><rect x="1279" y="1224" width="82" height="8"/><rect x="1279" y="1240" width="82" height="8"/><rect x="1279" y="1256" width="82" height="8"/><rect x="1279" y="1272" width="82" height="8"/></clipPath>
<rect x="1283" y="1056" width="61" height="6" rx="3" fill="#8a8a8a"/>
<rect x="1281" y="1064" width="63" height="36" rx="3" fill="#9c9c9c"/>
<rect x="1281" y="1064" width="63" height="4" fill="#878787"/>
<rect x="1281" y="1076" width="63" height="4" fill="#878787"/>
<rect x="1281" y="1087" width="63" height="4" fill="#878787"/>
<rect x="1281" y="1096" width="63" height="4" fill="#878787"/>
<rect x="1287" y="1070" width="41" height="4" fill="#bdbdbd"/>
<rect x="1287" y="1081" width="41" height="4" fill="#bdbdbd"/>
<g clip-path="url(#br3s)"><g clip-path="url(#br3t)">
<rect x="1281" y="1096" width="78" height="230" fill="#a8a8a8"/>
<rect x="1281" y="1147" width="78" height="139" fill="#828282"/>
<rect x="1281" y="1106" width="14" height="170" fill="#ffffff" opacity="0.16"/>
<rect x="1281" y="1096" width="4" height="230" fill="#8a8a8a" opacity="0.7"/>
<rect x="1355" y="1096" width="4" height="230" fill="#8a8a8a" opacity="0.7"/>
</g></g>
<rect x="1147" y="1169" width="154" height="20" fill="#d4f0ff"/>
<rect x="1162" y="1169" width="80" height="20" fill="#5b7fe0"/>
<path d="M1232,1143 L1301,1179 L1232,1209 Z" fill="#d4f0ff"/>
<g fill="#525252"><rect x="944" y="1168" width="54" height="18"/><path d="M992,1137 L1031,1178 L992,1209 L998,1177 Z"/><rect x="1370" y="1168" width="44" height="18"/><path d="M1408,1143 L1456,1178 L1408,1216 L1414,1177 Z"/></g>
</g>
</svg>
</body></html>
